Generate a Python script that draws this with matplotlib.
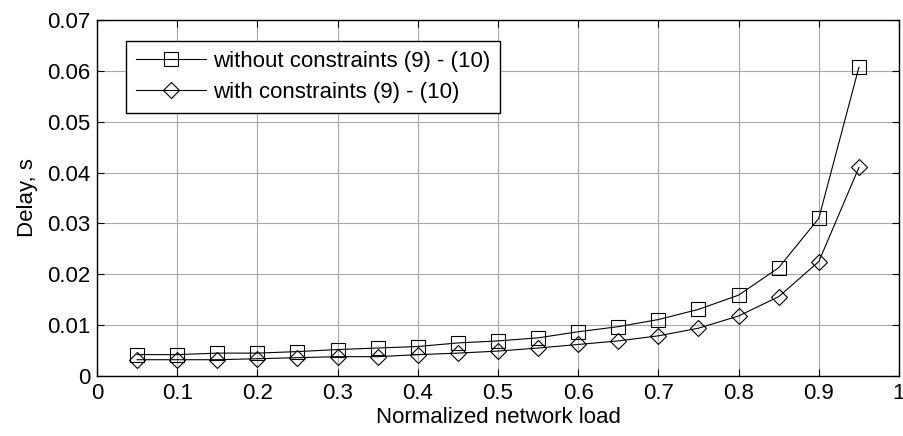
import matplotlib
matplotlib.use("Agg")
import matplotlib.pyplot as plt
import numpy as np

load = [0.05, 0.10, 0.15, 0.20, 0.25, 0.30, 0.35, 0.40, 0.45, 0.50,
        0.55, 0.60, 0.65, 0.70, 0.75, 0.80, 0.85, 0.90, 0.95]
without_c = [0.0042, 0.0042, 0.0045, 0.0045, 0.0048, 0.0052, 0.0055, 0.0058, 0.0065, 0.0069,
             0.0075, 0.0087, 0.0097, 0.0111, 0.0131, 0.0159, 0.0213, 0.0310, 0.0607]
with_c = [0.0032, 0.0032, 0.0032, 0.0034, 0.0036, 0.0038, 0.0038, 0.0042, 0.0045, 0.0049,
          0.0055, 0.0062, 0.0069, 0.0079, 0.0094, 0.0118, 0.0156, 0.0225, 0.0410]
labels = ["without constraints (9) - (10)", "with constraints (9) - (10)"]

plt.rcParams['font.family'] = ['Liberation Sans', 'DejaVu Sans']
FS = 16

fig = plt.figure(figsize=(9.04, 4.36), dpi=100)
ax = fig.add_axes([97/904, 1 - 376/436, (899-97)/904, (376-20)/436])

ax.plot(load, without_c, color='black', lw=0.8, marker='s', ms=10,
        mfc='none', mec='black', mew=0.8, label=labels[0])
ax.plot(load, with_c, color='black', lw=0.8, marker='D', ms=8,
        mfc='none', mec='black', mew=0.8, label=labels[1])

ax.set_xlim(0, 1)
ax.set_ylim(0, 0.07)
ax.set_xticks(np.arange(0, 1.01, 0.1))
ax.set_xticklabels(['0', '0.1', '0.2', '0.3', '0.4', '0.5', '0.6', '0.7', '0.8', '0.9', '1'])
ax.set_yticks(np.arange(0, 0.0701, 0.01))
ax.set_yticklabels(['0', '0.01', '0.02', '0.03', '0.04', '0.05', '0.06', '0.07'])
ax.grid(True, color='#a8a8a8', lw=0.8)
ax.tick_params(direction='in', top=True, right=True, labelsize=FS, length=5, width=0.8, pad=5)
for s in ax.spines.values():
    s.set_linewidth(1.0)
ax.set_xlabel('Normalized network load', fontsize=FS, labelpad=2)
ax.set_ylabel('Delay, s', fontsize=FS, labelpad=6)

leg = ax.legend(loc='upper left', bbox_to_anchor=(0.0358, 0.941), fontsize=FS,
                frameon=True, fancybox=False, edgecolor='black', framealpha=1,
                handlelength=3.15, borderpad=0.45, labelspacing=0.45, handletextpad=0.32,
                borderaxespad=0)
leg.get_frame().set_linewidth(1.0)

fig.savefig('out.png', dpi=100)
